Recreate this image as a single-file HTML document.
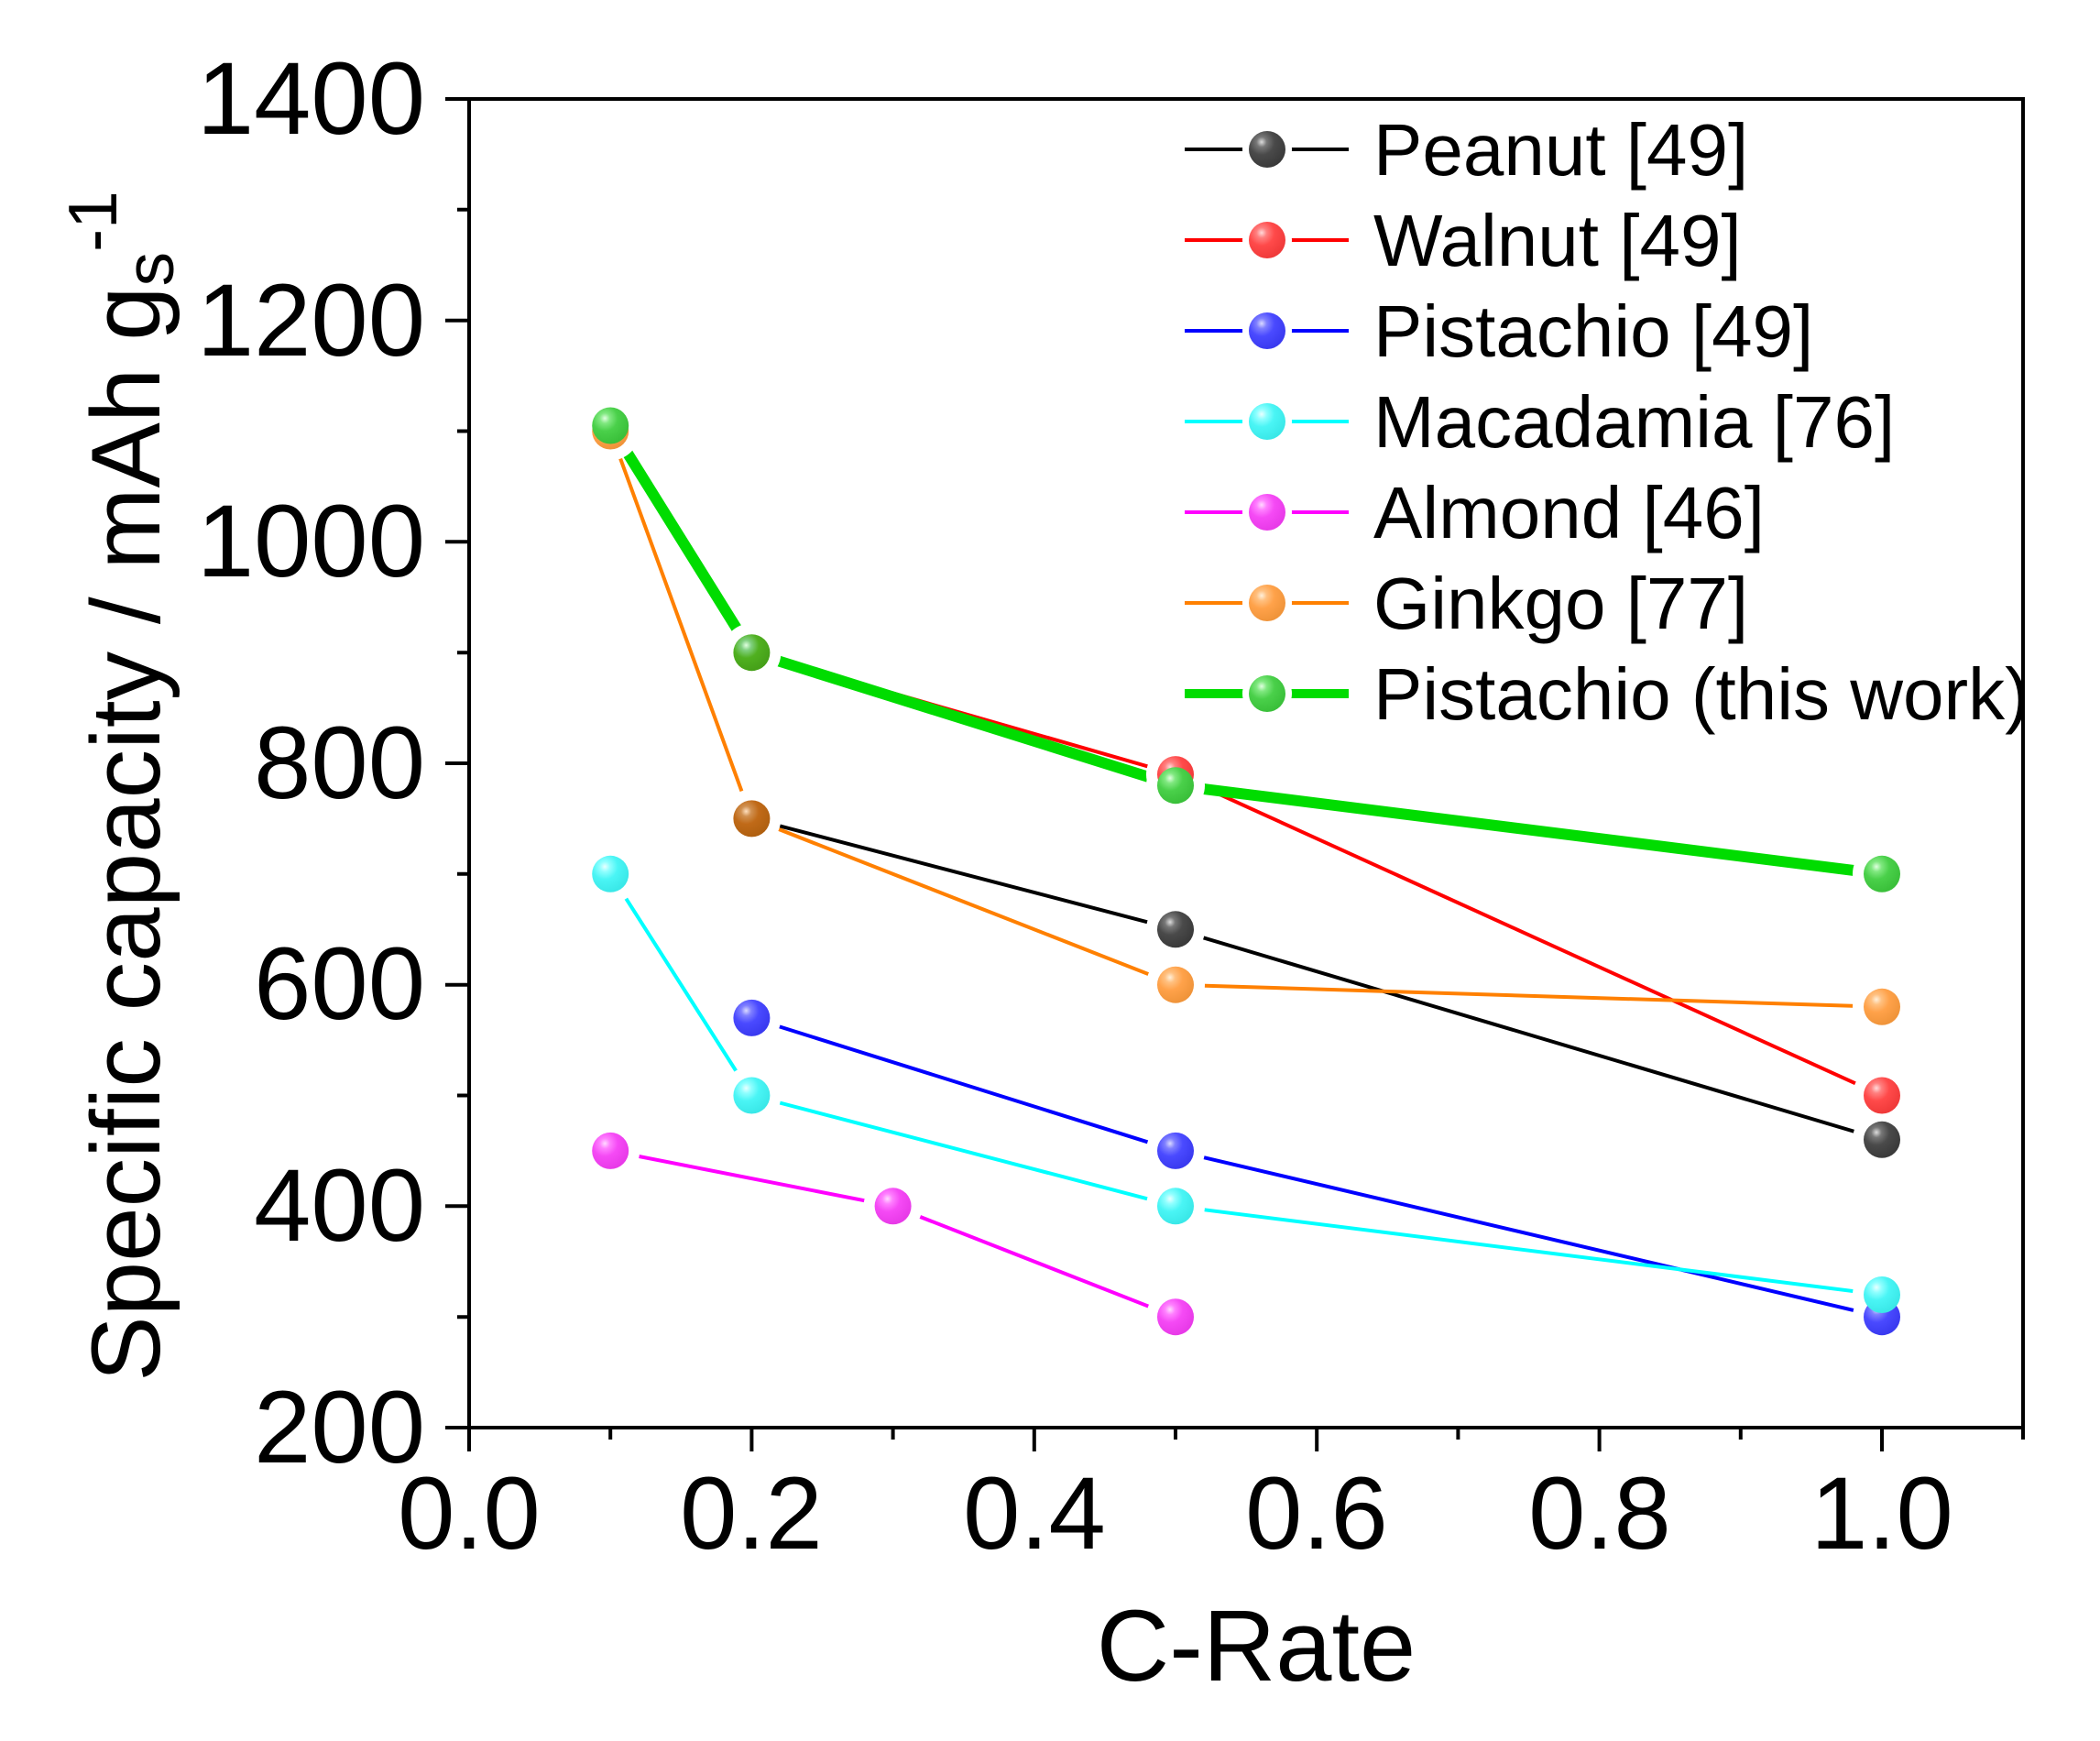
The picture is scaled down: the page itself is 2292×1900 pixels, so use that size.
<!DOCTYPE html>
<html><head><meta charset="utf-8"><style>html,body{margin:0;padding:0;background:#fff}svg{display:block}</style></head>
<body>
<svg width="2292" height="1900" viewBox="0 0 2292 1900" xmlns="http://www.w3.org/2000/svg" font-family="Liberation Sans, Arial, sans-serif">
<defs>
<radialGradient id="gk" cx="0.35" cy="0.3" r="0.7"><stop offset="0" stop-color="#ddd"/><stop offset="0.2" stop-color="#777"/><stop offset="0.5" stop-color="#4a4a4a"/><stop offset="1" stop-color="#3a3a3a"/></radialGradient>
<radialGradient id="gr" cx="0.35" cy="0.3" r="0.7"><stop offset="0" stop-color="#ffdada"/><stop offset="0.2" stop-color="#ff8080"/><stop offset="0.5" stop-color="#ff4a4a"/><stop offset="1" stop-color="#f03a3a"/></radialGradient>
<radialGradient id="gb" cx="0.35" cy="0.3" r="0.7"><stop offset="0" stop-color="#dadaff"/><stop offset="0.2" stop-color="#8080ff"/><stop offset="0.5" stop-color="#4a4aff"/><stop offset="1" stop-color="#3a3af0"/></radialGradient>
<radialGradient id="gc" cx="0.35" cy="0.3" r="0.7"><stop offset="0" stop-color="#eaffff"/><stop offset="0.2" stop-color="#90ffff"/><stop offset="0.5" stop-color="#4af5f5"/><stop offset="1" stop-color="#3ae8e8"/></radialGradient>
<radialGradient id="gm" cx="0.35" cy="0.3" r="0.7"><stop offset="0" stop-color="#ffdaff"/><stop offset="0.2" stop-color="#ff80ff"/><stop offset="0.5" stop-color="#f54af5"/><stop offset="1" stop-color="#e83ae8"/></radialGradient>
<radialGradient id="go" cx="0.35" cy="0.3" r="0.7"><stop offset="0" stop-color="#fff0da"/><stop offset="0.2" stop-color="#ffc080"/><stop offset="0.5" stop-color="#ffa24a"/><stop offset="1" stop-color="#f0943a"/></radialGradient>
<radialGradient id="gg" cx="0.35" cy="0.3" r="0.7"><stop offset="0" stop-color="#e0ffe0"/><stop offset="0.2" stop-color="#80e880"/><stop offset="0.5" stop-color="#4ad04a"/><stop offset="1" stop-color="#3ac03a"/></radialGradient>
<radialGradient id="gd" cx="0.35" cy="0.3" r="0.7"><stop offset="0" stop-color="#e0ffe0"/><stop offset="0.2" stop-color="#80d080"/><stop offset="0.5" stop-color="#50b020"/><stop offset="1" stop-color="#45a018"/></radialGradient>
<radialGradient id="gn" cx="0.35" cy="0.3" r="0.7"><stop offset="0" stop-color="#ffe0c0"/><stop offset="0.2" stop-color="#d09050"/><stop offset="0.5" stop-color="#c06a18"/><stop offset="1" stop-color="#b06010"/></radialGradient>
</defs>

<g fill="none" stroke-linejoin="round">
<polyline points="820.4,893.4 1283,1014.3 2054,1243.8" stroke="#000" stroke-width="4"/>
<polyline points="820.4,712.2 1283,845.1 2054,1195.5" stroke="#f00" stroke-width="4"/>
<polyline points="820.4,1110.9 1283,1255.9 2054,1437.2" stroke="#00f" stroke-width="4"/>
<polyline points="666.2,953.8 820.4,1195.5 1283,1316.3 2054,1413" stroke="#0ff" stroke-width="4"/>
<polyline points="666.2,1255.9 974.6,1316.3 1283,1437.2" stroke="#f0f" stroke-width="4"/>
<polyline points="666.2,470.5 820.4,893.4 1283,1074.7 2054,1098.8" stroke="#ff8000" stroke-width="4"/>
<polyline points="666.2,464.5 820.4,712.2 1283,857.2 2054,953.8" stroke="#00dc00" stroke-width="12"/>
</g>
<g fill="#fff">
<circle cx="820.4" cy="893.4" r="32"/><circle cx="1283" cy="1014.3" r="32"/><circle cx="2054" cy="1243.8" r="32"/>
<circle cx="2054" cy="1195.5" r="32"/>
<circle cx="820.4" cy="1110.9" r="32"/><circle cx="1283" cy="1255.9" r="32"/><circle cx="2054" cy="1437.2" r="32"/>
<circle cx="666.2" cy="953.8" r="32"/><circle cx="820.4" cy="1195.5" r="32"/><circle cx="1283" cy="1316.3" r="32"/><circle cx="2054" cy="1413" r="32"/>
<circle cx="666.2" cy="1255.9" r="32"/><circle cx="974.6" cy="1316.3" r="32"/><circle cx="1283" cy="1437.2" r="32"/>
<circle cx="666.2" cy="470.5" r="32"/><circle cx="1283" cy="1074.7" r="32"/><circle cx="2054" cy="1098.8" r="32"/>
<circle cx="666.2" cy="464.5" r="32"/><circle cx="820.4" cy="712.2" r="32"/><circle cx="1283" cy="857.2" r="32"/><circle cx="2054" cy="953.8" r="32"/>
<circle cx="1283" cy="845.1" r="32"/>
</g>
<g>
<circle cx="1283" cy="1014.3" r="20" fill="url(#gk)"/><circle cx="2054" cy="1243.8" r="20" fill="url(#gk)"/>
<circle cx="1283" cy="845.1" r="20" fill="url(#gr)"/><circle cx="2054" cy="1195.5" r="20" fill="url(#gr)"/>
<circle cx="820.4" cy="1110.9" r="20" fill="url(#gb)"/><circle cx="1283" cy="1255.9" r="20" fill="url(#gb)"/><circle cx="2054" cy="1437.2" r="20" fill="url(#gb)"/>
<circle cx="666.2" cy="953.8" r="20" fill="url(#gc)"/><circle cx="820.4" cy="1195.5" r="20" fill="url(#gc)"/><circle cx="1283" cy="1316.3" r="20" fill="url(#gc)"/><circle cx="2054" cy="1413" r="20" fill="url(#gc)"/>
<circle cx="666.2" cy="1255.9" r="20" fill="url(#gm)"/><circle cx="974.6" cy="1316.3" r="20" fill="url(#gm)"/><circle cx="1283" cy="1437.2" r="20" fill="url(#gm)"/>
<circle cx="666.2" cy="470.5" r="20" fill="url(#go)"/><circle cx="820.4" cy="893.4" r="20" fill="url(#gn)"/><circle cx="1283" cy="1074.7" r="20" fill="url(#go)"/><circle cx="2054" cy="1098.8" r="20" fill="url(#go)"/>
<circle cx="666.2" cy="464.5" r="20" fill="url(#gg)"/><circle cx="820.4" cy="712.2" r="20" fill="url(#gd)"/><circle cx="1283" cy="857.2" r="20" fill="url(#gg)"/><circle cx="2054" cy="953.8" r="20" fill="url(#gg)"/>
</g>

<g stroke="#000" stroke-width="4" fill="none">
<rect x="512" y="108" width="1696" height="1450"/>
<path d="M486,1558H512M486,1316.3H512M486,1074.7H512M486,833H512M486,591.3H512M486,349.7H512M486,108H512"/>
<path d="M499,1437.2H512M499,1195.5H512M499,953.8H512M499,712.2H512M499,470.5H512M499,228.8H512"/>
<path d="M512,1558V1584M820.4,1558V1584M1128.8,1558V1584M1437.2,1558V1584M1745.6,1558V1584M2054,1558V1584"/>
<path d="M666.2,1558V1571M974.6,1558V1571M1283,1558V1571M1591.4,1558V1571M1899.8,1558V1571M2208,1558V1571"/>
</g>
<g font-size="112" fill="#000" text-anchor="end">
<text x="464" y="1596">200</text><text x="464" y="1354">400</text><text x="464" y="1112">600</text><text x="464" y="871">800</text><text x="464" y="629">1000</text><text x="464" y="388">1200</text><text x="464" y="146">1400</text>
</g>
<g font-size="112" fill="#000" text-anchor="middle">
<text x="512" y="1690">0.0</text><text x="820" y="1690">0.2</text><text x="1129" y="1690">0.4</text><text x="1437" y="1690">0.6</text><text x="1746" y="1690">0.8</text><text x="2054" y="1690">1.0</text>
</g>
<text x="1371" y="1834" font-size="110" text-anchor="middle">C-Rate</text>
<text transform="translate(174,858) rotate(-90)" font-size="107" text-anchor="middle">Specific capacity / mAh g<tspan font-size="75" dy="15">s</tspan><tspan font-size="75" dy="-62">-1</tspan></text>

<g font-size="80" fill="#000">
<g transform="translate(0,163)"><path d="M1293,0H1472" stroke="#000" stroke-width="4"/><circle cx="1383" cy="0" r="27" fill="#fff"/><circle cx="1383" cy="0" r="20" fill="url(#gk)"/><text x="1499" y="28">Peanut [49]</text></g>
<g transform="translate(0,262)"><path d="M1293,0H1472" stroke="#f00" stroke-width="4"/><circle cx="1383" cy="0" r="27" fill="#fff"/><circle cx="1383" cy="0" r="20" fill="url(#gr)"/><text x="1499" y="28">Walnut [49]</text></g>
<g transform="translate(0,361)"><path d="M1293,0H1472" stroke="#00f" stroke-width="4"/><circle cx="1383" cy="0" r="27" fill="#fff"/><circle cx="1383" cy="0" r="20" fill="url(#gb)"/><text x="1499" y="28">Pistachio [49]</text></g>
<g transform="translate(0,460)"><path d="M1293,0H1472" stroke="#0ff" stroke-width="4"/><circle cx="1383" cy="0" r="27" fill="#fff"/><circle cx="1383" cy="0" r="20" fill="url(#gc)"/><text x="1499" y="28">Macadamia [76]</text></g>
<g transform="translate(0,559)"><path d="M1293,0H1472" stroke="#f0f" stroke-width="4"/><circle cx="1383" cy="0" r="27" fill="#fff"/><circle cx="1383" cy="0" r="20" fill="url(#gm)"/><text x="1499" y="28">Almond [46]</text></g>
<g transform="translate(0,658)"><path d="M1293,0H1472" stroke="#ff8000" stroke-width="4"/><circle cx="1383" cy="0" r="27" fill="#fff"/><circle cx="1383" cy="0" r="20" fill="url(#go)"/><text x="1499" y="28">Ginkgo [77]</text></g>
<g transform="translate(0,757)"><path d="M1293,0H1472" stroke="#00dc00" stroke-width="10"/><circle cx="1383" cy="0" r="27" fill="#fff"/><circle cx="1383" cy="0" r="20" fill="url(#gg)"/><text x="1499" y="28">Pistachio (this work)</text></g>
</g>
</svg>
</body></html>
